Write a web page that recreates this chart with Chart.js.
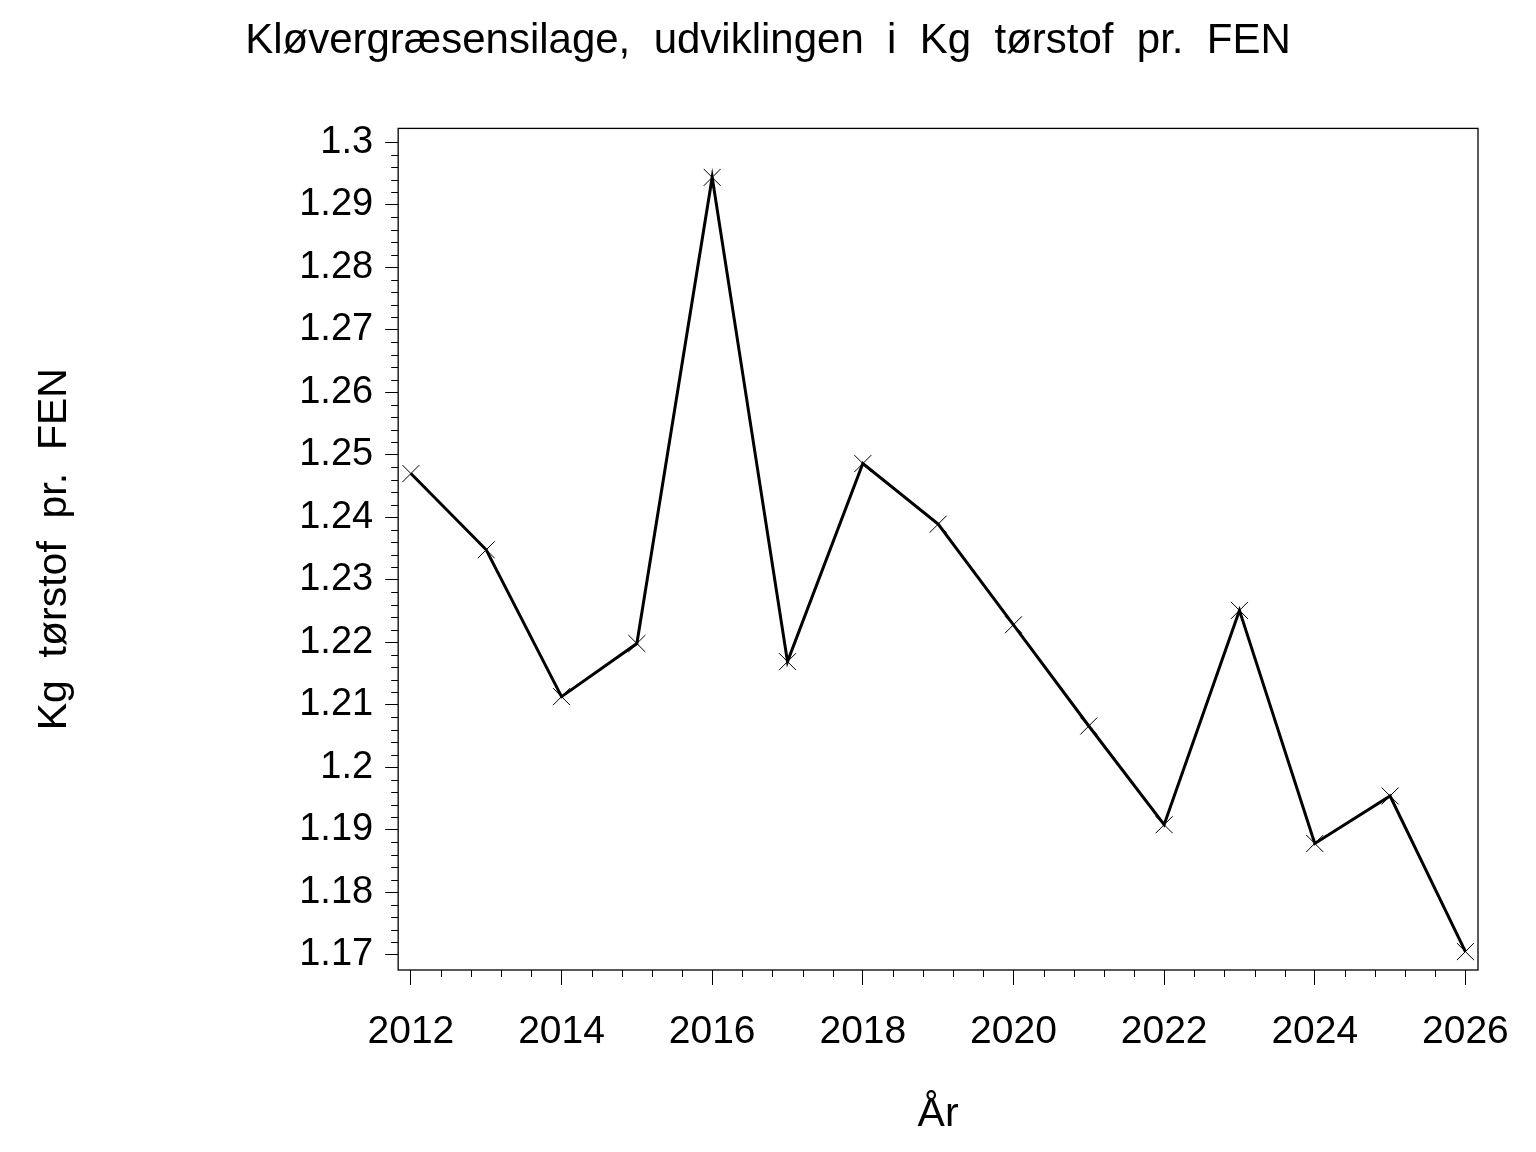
<!DOCTYPE html>
<html>
<head>
<meta charset="utf-8">
<script src="https://cdn.jsdelivr.net/npm/chart.js@4.4.1/dist/chart.umd.min.js"></script>
<style>
  html, body { margin: 0; padding: 0; background: #fff; }
  #wrap { width: 1536px; height: 1152px; }
</style>
</head>
<body>
<div id="wrap"><canvas id="chart"></canvas></div>
<script>
// data
var years = [2012, 2013, 2014, 2015, 2016, 2017, 2018, 2019, 2020, 2021, 2022, 2023, 2024, 2025, 2026];
var values = [1.2470, 1.2348, 1.2113, 1.2198, 1.2944, 1.2169, 1.2486, 1.2389, 1.2228, 1.2066, 1.1908, 1.2251, 1.1878, 1.1954, 1.1705];

var xTicks = [2012, 2014, 2016, 2018, 2020, 2022, 2024, 2026];
var yTicks = [1.17, 1.18, 1.19, 1.2, 1.21, 1.22, 1.23, 1.24, 1.25, 1.26, 1.27, 1.28, 1.29, 1.3];

var titleText = 'Kløvergræsensilage,  udviklingen  i  Kg  tørstof  pr.  FEN';
var yTitle = 'Kg  tørstof  pr.  FEN';
var xTitle = 'År';

var FONT = '"Liberation Sans", Arial, Helvetica, sans-serif';
Chart.defaults.font.family = FONT;
Chart.defaults.color = '#000';

// minor ticks and the frame round the plot
var framePlugin = {
  id: 'frame',
  afterDraw: function (chart) {
    var ctx = chart.ctx, a = chart.chartArea;
    var xs = chart.scales.x, ys = chart.scales.y;
    ctx.save();
    ctx.strokeStyle = '#000';
    ctx.lineWidth = 1.3;
    ctx.strokeRect(a.left, a.top, a.right - a.left, a.bottom - a.top);

    ctx.lineWidth = 1;
    ctx.beginPath();
    var i, v, p;
    for (i = 0; i <= 35; i++) {
      if (i % 5 === 0) continue;
      v = 2012 + i * 0.4;
      p = Math.round(xs.getPixelForValue(v)) + 0.5;
      ctx.moveTo(p, a.bottom);
      ctx.lineTo(p, a.bottom + 7);
    }
    for (i = 0; i <= 65; i++) {
      if (i % 5 === 0) continue;
      v = 1.17 + i * 0.002;
      p = Math.round(ys.getPixelForValue(v)) + 0.5;
      ctx.moveTo(a.left, p);
      ctx.lineTo(a.left - 7, p);
    }
    ctx.stroke();
    ctx.restore();
  }
};

new Chart('chart', {
  type: 'line',
  data: {
    datasets: [{
      data: years.map(function (y, i) { return { x: y, y: values[i] }; }),
      borderColor: '#000',
      borderWidth: 3,
      pointStyle: 'crossRot',
      pointRadius: 12,
      pointBorderWidth: 1,
      pointBorderColor: '#000',
      pointBackgroundColor: '#000',
      tension: 0,
      fill: false
    }]
  },
  options: {
    responsive: true,
    maintainAspectRatio: false,
    animation: false,
    devicePixelRatio: 1,
    layout: { padding: { left: 30, right: 30, top: 0, bottom: 13 } },
    plugins: {
      legend: { display: false },
      tooltip: { enabled: false },
      title: {
        display: true,
        text: titleText,
        color: '#000',
        font: { size: 42, weight: 'normal' },
        padding: { top: 16, bottom: 62 }
      }
    },
    scales: {
      x: {
        type: 'linear',
        min: 2011.831,
        max: 2026.167,
        afterBuildTicks: function (scale) {
          scale.ticks = xTicks.map(function (v) { return { value: v }; });
        },
        ticks: {
          color: '#000',
          font: { size: 39 },
          padding: 24,
          maxRotation: 0,
          autoSkip: false,
          callback: function (v) { return String(v); }
        },
        grid: {
          drawOnChartArea: false,
          drawTicks: true,
          tickLength: 15,
          tickColor: '#000',
          tickWidth: 1
        },
        border: { display: false },
        title: {
          display: true,
          text: xTitle,
          color: '#000',
          font: { size: 41 },
          padding: { top: 10, bottom: 0 }
        }
      },
      y: {
        type: 'linear',
        min: 1.16755,
        max: 1.30224,
        afterBuildTicks: function (scale) {
          scale.ticks = yTicks.map(function (v) { return { value: v }; });
        },
        ticks: {
          color: '#000',
          font: { size: 38 },
          padding: 12,
          autoSkip: false,
          callback: function (v) { return String(+v.toFixed(2)); }
        },
        grid: {
          drawOnChartArea: false,
          drawTicks: true,
          tickLength: 13,
          tickColor: '#000',
          tickWidth: 1
        },
        border: { display: false },
        title: {
          display: true,
          text: yTitle,
          color: '#000',
          font: { size: 41 },
          padding: { top: 0, bottom: 208 }
        }
      },
      // empty right-hand spacer so the title centres on the page
      spacer: {
        type: 'linear',
        position: 'right',
        ticks: { display: false },
        grid: { display: false },
        border: { display: false },
        afterFit: function (scale) { scale.width = 28; }
      }
    }
  },
  plugins: [framePlugin]
});
</script>
</body>
</html>
